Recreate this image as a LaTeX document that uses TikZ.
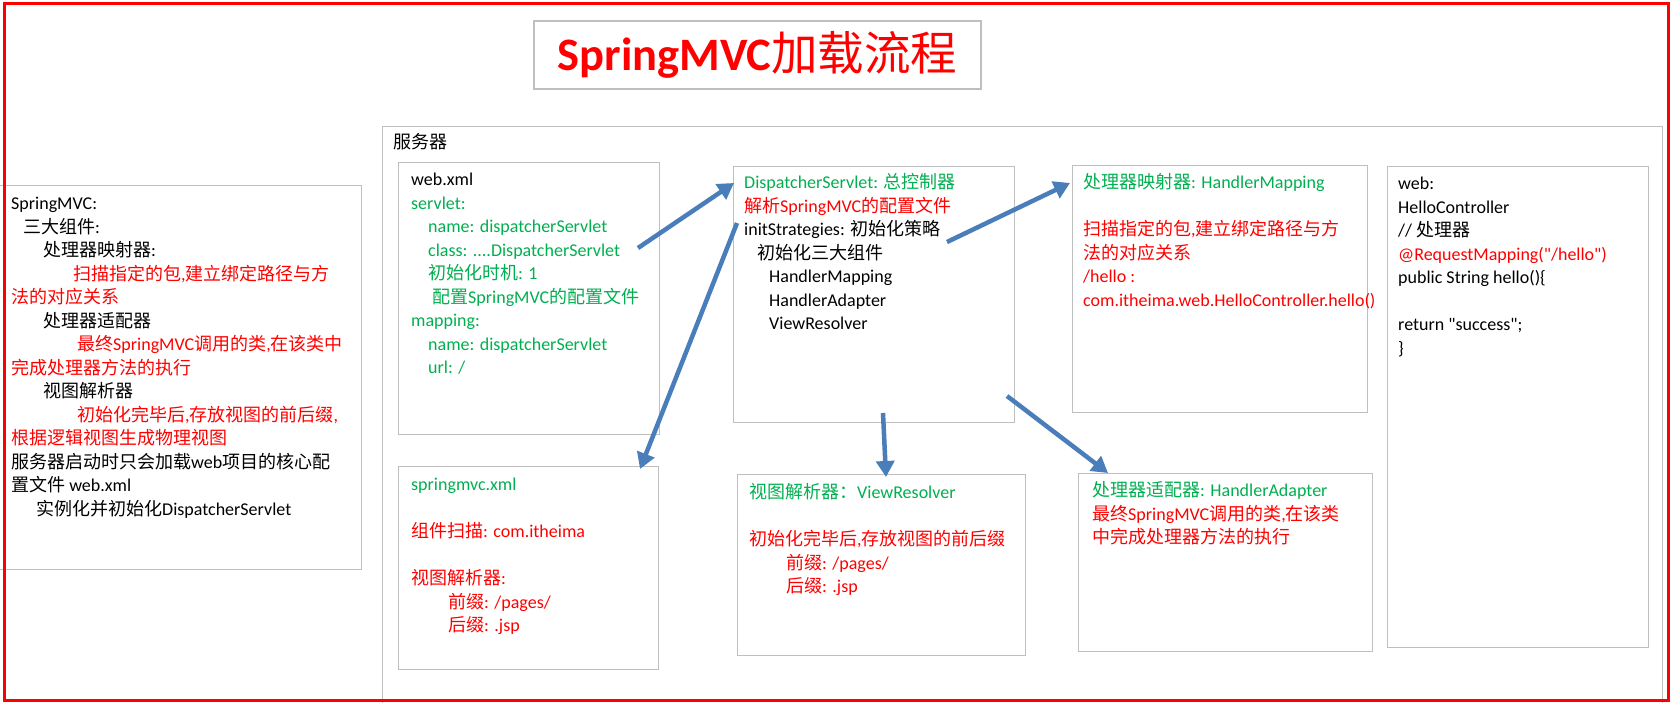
\documentclass[tikz,border=0pt]{standalone}
\usepackage{fontspec}
\setmainfont{Carlito}
\newfontfamily\cjkf{Noto Sans CJK SC}
\usetikzlibrary{arrows.meta}
\XeTeXinterchartokenstate=1
\newXeTeXintercharclass\CJKcls
\newcount\cjkcnt
\cjkcnt="3000 \loop \XeTeXcharclass\cjkcnt=\CJKcls \advance\cjkcnt 1 \ifnum\cjkcnt<"3040 \repeat
\cjkcnt="4E00 \loop \XeTeXcharclass\cjkcnt=\CJKcls \advance\cjkcnt 1 \ifnum\cjkcnt<"A000 \repeat
\cjkcnt="FF00 \loop \XeTeXcharclass\cjkcnt=\CJKcls \advance\cjkcnt 1 \ifnum\cjkcnt<"FFF0 \repeat
\XeTeXinterchartoks 0 \CJKcls = {\cjkf}
\XeTeXinterchartoks 4095 \CJKcls = {\cjkf}
\XeTeXinterchartoks \CJKcls 0 = {\rmfamily}
\XeTeXinterchartoks \CJKcls 4095 = {\rmfamily}
\definecolor{boxgray}{HTML}{BFBFBF}
\definecolor{okgreen}{HTML}{00B050}
\definecolor{arrowblue}{HTML}{4A7EBB}
\definecolor{txtred}{HTML}{FF0000}
\tikzset{
  box/.style={draw=boxgray, line width=1.2pt, anchor=north west, inner sep=0pt, fill=none},
  txt/.style={anchor=north west, inner sep=0pt, align=left, font=\fontsize{18}{23.5}\selectfont},
  arr/.style={draw=arrowblue, line width=4.5pt, -{Triangle[length=16pt,width=18pt]}},
}
\begin{document}
\begin{tikzpicture}[x=1pt,y=-1pt]
\useasboundingbox (0,0) rectangle (1671,702);
\fill[white] (0,0) rectangle (1671,702);
% boxes
\node[box, anchor=center, minimum width=447pt, minimum height=68pt, text=txtred, font=\fontsize{46.5}{55}\selectfont] (title) at (757.5,55) {{\bfseries SpringMVC}加载流程};
\node[box, minimum width=1280pt, minimum height=600pt] (server) at (382,126) {};
\node[box, minimum width=371pt, minimum height=384pt] (leftbox) at (-10,185) {};
\node[box, minimum width=261pt, minimum height=272pt] (webxml) at (398,162) {};
\node[box, minimum width=281pt, minimum height=256pt] (disp) at (733,166) {};
\node[box, minimum width=295pt, minimum height=247pt] (hmap) at (1072,165) {};
\node[box, minimum width=261pt, minimum height=481pt] (webbox) at (1387,166) {};
\node[box, minimum width=260pt, minimum height=203pt] (smvc) at (398,466) {};
\node[box, minimum width=288pt, minimum height=181pt] (vres) at (737,474) {};
\node[box, minimum width=294pt, minimum height=178pt] (hadapt) at (1078,473) {};
% texts
\node[txt] (servertxt) at (393,132) {\strut 服务器};
\node[txt] (lefttxt) at (11,193) {\strut SpringMVC:\\
\hspace*{12pt}三大组件:\\
\hspace*{32pt}处理器映射器:\\
\hspace*{62pt}\color{txtred}扫描指定的包,建立绑定路径与方\\
\color{txtred}法的对应关系\\
\hspace*{32pt}\color{black}处理器适配器\\
\hspace*{66pt}\color{txtred}最终SpringMVC调用的类,在该类中\\
\color{txtred}完成处理器方法的执行\\
\hspace*{32pt}\color{black}视图解析器\\
\hspace*{66pt}\color{txtred}初始化完毕后,存放视图的前后缀,\\
\color{txtred}根据逻辑视图生成物理视图\\
\color{black}服务器启动时只会加载web项目的核心配\\
\color{black}置文件 web.xml\\
\hspace*{25pt}\color{black}实例化并初始化DispatcherServlet};
\node[txt] (webxmltxt) at (411,169) {\strut web.xml\\
\color{okgreen}servlet:\\
\hspace*{17pt}\color{okgreen}name: dispatcherServlet\\
\hspace*{17pt}\color{okgreen}class: ....DispatcherServlet\\
\hspace*{17pt}\color{okgreen}初始化时机: 1\\
\hspace*{21pt}\color{okgreen}配置SpringMVC的配置文件\\
\color{okgreen}mapping:\\
\hspace*{17pt}\color{okgreen}name: dispatcherServlet\\
\hspace*{17pt}\color{okgreen}url: /};
\node[txt] (disptxt) at (744,172) {\strut\color{okgreen}DispatcherServlet: 总控制器\\
\color{txtred}解析SpringMVC的配置文件\\
\color{black}initStrategies: 初始化策略\\
\hspace*{13pt}\color{black}初始化三大组件\\
\hspace*{25pt}HandlerMapping\\
\hspace*{25pt}HandlerAdapter\\
\hspace*{25pt}ViewResolver};
\node[txt] (hmaptxt) at (1083,172) {\strut\color{okgreen}处理器映射器: HandlerMapping\\
\strut\\
\color{txtred}扫描指定的包,建立绑定路径与方\\
\color{txtred}法的对应关系\\
\color{txtred}/hello :\\
\color{txtred}com.itheima.web.HelloController.hello()};
\node[txt] (webtxt) at (1398,173) {\strut web:\\
HelloController\\
// 处理器\\
\color{txtred}@RequestMapping(\textquotedbl/hello\textquotedbl)\\
\color{black}public String hello()\{\\
\strut\\
return \textquotedbl success\textquotedbl;\\
\}};
\node[txt] (smvctxt) at (411,474) {\strut\color{okgreen}springmvc.xml\\
\strut\\
\color{txtred}组件扫描: com.itheima\\
\strut\\
\color{txtred}视图解析器:\\
\hspace*{37pt}\color{txtred}前缀: /pages/\\
\hspace*{37pt}\color{txtred}后缀: .jsp};
\node[txt] (vrestxt) at (749,482) {\strut\color{okgreen}视图解析器：ViewResolver\\
\strut\\
\color{txtred}初始化完毕后,存放视图的前后缀\\
\hspace*{37pt}\color{txtred}前缀: /pages/\\
\hspace*{37pt}\color{txtred}后缀: .jsp};
\node[txt] (hadapttxt) at (1092,480) {\strut\color{okgreen}处理器适配器: HandlerAdapter\\
\color{txtred}最终SpringMVC调用的类,在该类\\
\color{txtred}中完成处理器方法的执行};
% arrows
\coordinate (a1s) at (638,248);
\coordinate (a1e) at (734,183);
\coordinate (a2s) at (737,223);
\coordinate (a2e) at (640,469);
\coordinate (a3s) at (947,242);
\coordinate (a3e) at (1070,183);
\coordinate (a4s) at (883,413);
\coordinate (a4e) at (886,477);
\coordinate (a5s) at (1007,396);
\coordinate (a5e) at (1108,473);
\draw[arr] (a1s) -- (a1e);
\draw[arr] (a2s) -- (a2e);
\draw[arr] (a3s) -- (a3e);
\draw[arr] (a4s) -- (a4e);
\draw[arr] (a5s) -- (a5e);
% outer frame
\node[draw=txtred, line width=3pt, anchor=north west, inner sep=0pt, minimum width=1664pt, minimum height=697pt] (frame) at (3,2) {};
\end{tikzpicture}
\end{document}
